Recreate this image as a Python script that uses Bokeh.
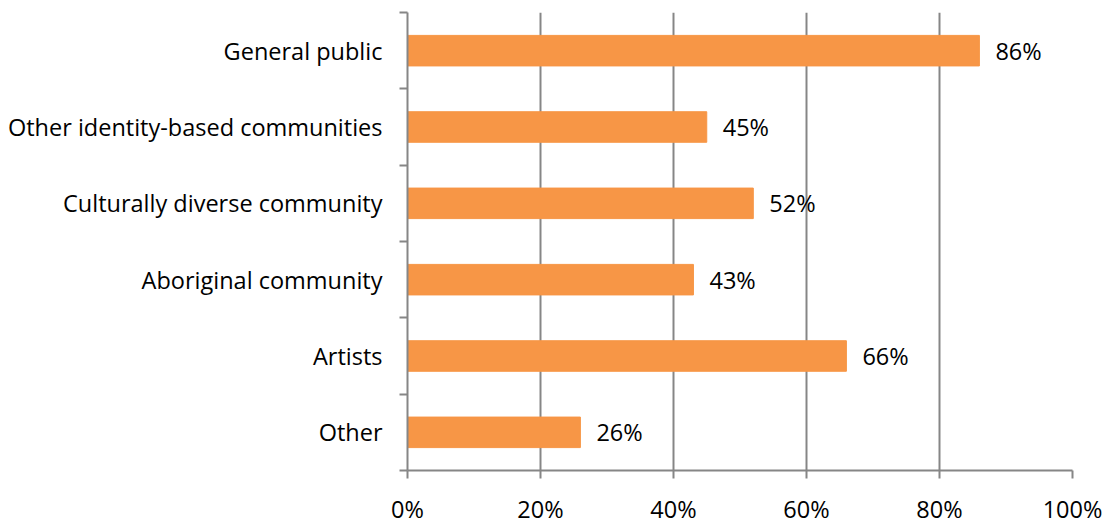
from bokeh.plotting import figure
from bokeh.models import ColumnDataSource, FixedTicker, Range1d
from bokeh.core.properties import value
from bokeh.embed import file_html
from bokeh.resources import INLINE

categories = ["Other", "Artists", "Aboriginal community", "Culturally diverse community",
              "Other identity-based communities", "General public"]
values = [26, 66, 43, 52, 45, 86]
labels = ["26%", "66%", "43%", "52%", "45%", "86%"]
x_ticks = [0, 20, 40, 60, 80, 100]
x_tick_labels = ["0%", "20%", "40%", "60%", "80%", "100%"]

FONT = "Open Sans"
FSIZE = "23.5px"
GRAY = "#868686"

ypos = [i + 0.5 for i in range(len(categories))]
src = ColumnDataSource(dict(y=ypos, v=values, lab=labels, cat=categories))

p = figure(width=1107, height=527, output_backend="svg", toolbar_location=None,
           x_range=Range1d(0, 100), y_range=Range1d(0, len(categories)),
           min_border_left=407, min_border_right=35, min_border_top=12, min_border_bottom=55)
p.outline_line_color = None

p.hbar(y="y", right="v", left=0, height=0.4, source=src, color="#F79646")
p.text(x="v", y="y", text="lab", source=src, x_offset=16, text_align="left",
       text_baseline="middle", text_font=value(FONT), text_font_size=FSIZE, text_color="#000000")

# x axis
p.xaxis.ticker = FixedTicker(ticks=x_ticks)
p.xaxis.major_label_overrides = {t: l for t, l in zip(x_ticks, x_tick_labels)}
p.xaxis.axis_line_color = GRAY
p.xaxis.axis_line_width = 2
p.xaxis.major_tick_line_color = GRAY
p.xaxis.major_tick_line_width = 2
p.xaxis.major_tick_out = 8
p.xaxis.major_tick_in = 0
p.xaxis.minor_tick_line_color = None
p.xaxis.major_label_standoff = 14
p.xaxis.major_label_text_font = FONT
p.xaxis.major_label_text_font_size = FSIZE
p.xaxis.major_label_text_color = "#000000"

# y axis
p.yaxis.ticker = FixedTicker(ticks=ypos, minor_ticks=list(range(len(categories) + 1)))
p.yaxis.major_label_overrides = {y: c for y, c in zip(ypos, categories)}
p.yaxis.axis_line_color = GRAY
p.yaxis.axis_line_width = 2
p.yaxis.major_tick_line_color = None
p.yaxis.major_tick_out = 0
p.yaxis.major_tick_in = 0
p.yaxis.minor_tick_line_color = GRAY
p.yaxis.minor_tick_line_width = 2
p.yaxis.minor_tick_out = 8
p.yaxis.minor_tick_in = 0
p.yaxis.major_label_standoff = 17
p.yaxis.major_label_text_font = FONT
p.yaxis.major_label_text_font_size = FSIZE
p.yaxis.major_label_text_color = "#000000"

p.xgrid.ticker = FixedTicker(ticks=x_ticks)
p.xgrid.grid_line_color = GRAY
p.xgrid.grid_line_width = 2
p.ygrid.grid_line_color = None

open("out.html", "w").write(file_html(p, INLINE))
